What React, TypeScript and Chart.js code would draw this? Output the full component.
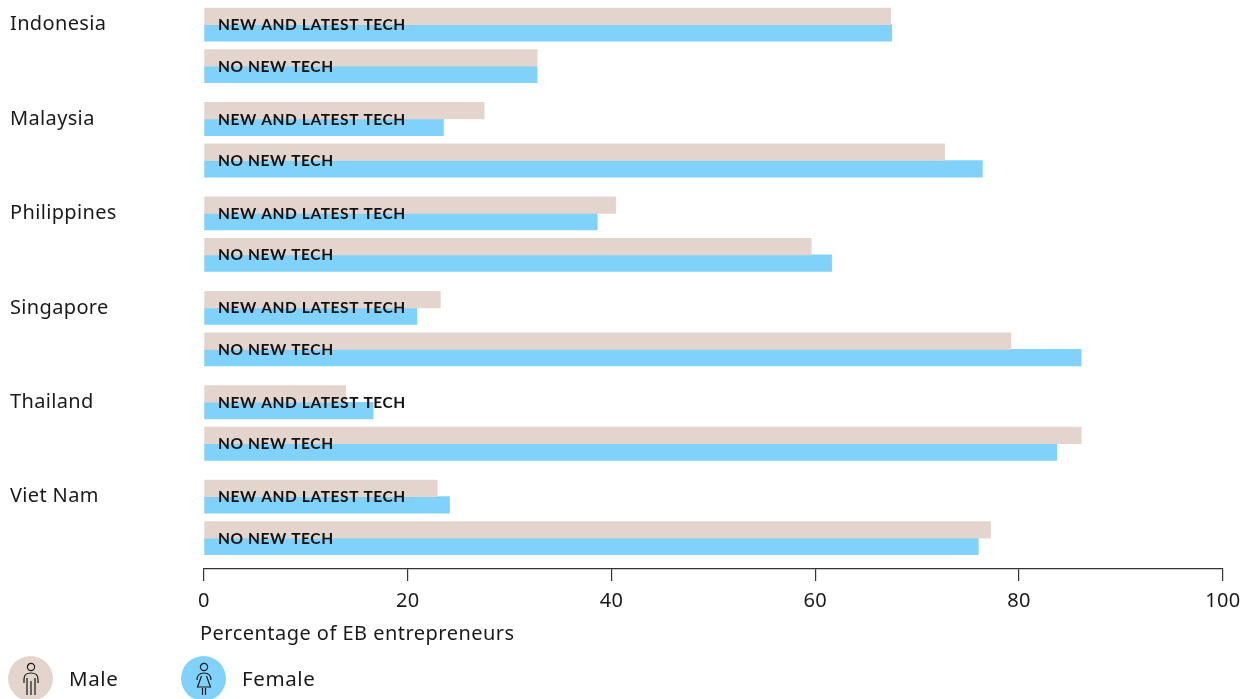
import React, { useEffect, useRef } from "react";
import { Chart, registerables } from "chart.js";

Chart.register(...registerables);

const countries = ["Indonesia", "Malaysia", "Philippines", "Singapore", "Thailand", "Viet Nam"];
const rowNames = ["NEW AND LATEST TECH", "NO NEW TECH"];
const seriesNames = ["Male", "Female"];
const maleNew = [67.4, 27.5, 40.4, 23.2, 13.9, 22.9];
const maleNone = [32.7, 72.7, 59.6, 79.2, 86.1, 77.2];
const femaleNew = [67.5, 23.5, 38.6, 20.9, 16.6, 24.1];
const femaleNone = [32.7, 76.4, 61.6, 86.1, 83.7, 76.0];
const xTicks = [0, 20, 40, 60, 80, 100];
const xTitle = "Percentage of EB entrepreneurs";

const INK = "#1a1a1a";
const MALE = "#e3d5cd";
const FEMALE = "#81d2fa";
const FONT = "'Noto Sans', sans-serif";
const ROW_FONT = "Lato, sans-serif";
const GROUP_STEP = 2.275;

const groupRow = (i: number) => i * GROUP_STEP;
const toPoints = (a: number[], b: number[]) =>
  a.flatMap((v, i) => [
    { x: v, y: groupRow(i) },
    { x: b[i], y: groupRow(i) + 1 },
  ]);

const textPlugin = {
  id: "texts",
  beforeDraw(chart: any) {
    chart.ctx.letterSpacing = "0.35px";
  },
  afterDatasetsDraw(chart: any) {
    const { ctx, scales } = chart;
    ctx.save();
    ctx.letterSpacing = "0.58px";
    ctx.font = `700 15.5px ${ROW_FONT}`;
    ctx.fillStyle = "#111";
    ctx.textAlign = "left";
    ctx.textBaseline = "middle";
    countries.forEach((_, i) => {
      rowNames.forEach((name, r) => {
        ctx.fillText(name, scales.x.getPixelForValue(0) + 14, scales.y.getPixelForValue(groupRow(i) + r) + 0.5);
      });
    });
    ctx.restore();
  },
  afterDraw(chart: any) {
    const { ctx, scales } = chart;
    ctx.save();
    ctx.letterSpacing = "0.47px";
    ctx.font = `400 20px ${FONT}`;
    ctx.fillStyle = INK;
    ctx.textAlign = "left";
    ctx.textBaseline = "middle";
    ctx.fillText(xTitle, scales.x.left - 4, scales.x.top + 65);
    ctx.restore();
  },
};

function PersonIcon({ female }: { female: boolean }) {
  return (
    <svg width="24" height="34" viewBox="0 0 24 34" fill="none" stroke="#1a1a1a" strokeWidth="1.2">
      <circle cx="12" cy="5" r="3.6" />
      {female ? (
        <>
          <path d="M5 18 C5 13 8 11 12 11 C16 11 19 13 19 18" />
          <path d="M9.5 14 L5.5 25 H18.5 L14.5 14" />
          <path d="M10.5 26 V33 M13.5 26 V33" />
        </>
      ) : (
        <>
          <path d="M5 21 V17 C5 13 8 11 12 11 C16 11 19 13 19 17 V21" />
          <path d="M8 16 V33 M12 19 V33 M16 16 V33" />
        </>
      )}
    </svg>
  );
}

function LegendItem({ label, color, left, textLeft, female }: any) {
  return (
    <>
      <div
        style={{
          position: "absolute",
          left,
          top: 656,
          width: 45,
          height: 45,
          borderRadius: "50%",
          background: color,
          display: "flex",
          alignItems: "center",
          justifyContent: "center",
        }}
      >
        <PersonIcon female={female} />
      </div>
      <div
        style={{
          position: "absolute",
          left: textLeft,
          top: 664,
          font: `20.5px ${FONT}`,
          lineHeight: "28px",
          color: INK,
          letterSpacing: "0.6px",
        }}
      >
        {label}
      </div>
    </>
  );
}

export default function App() {
  const ref = useRef<HTMLCanvasElement>(null);
  useEffect(() => {
    const chart = new Chart(ref.current!, {
      type: "bar",
      data: {
        datasets: [
          { label: seriesNames[0], data: toPoints(maleNew, maleNone), backgroundColor: MALE, barThickness: 16.6 },
          { label: seriesNames[1], data: toPoints(femaleNew, femaleNone), backgroundColor: FEMALE, barThickness: 16.6 },
        ],
      },
      options: {
        indexAxis: "y",
        responsive: false,
        animation: false,
        layout: { padding: { left: 10, right: 25, top: 3.85, bottom: 0 } },
        plugins: { legend: { display: false }, tooltip: { enabled: false } },
        scales: {
          x: {
            type: "linear",
            min: 0,
            max: 100,
            afterBuildTicks: (s: any) => {
              s.ticks = xTicks.map((value) => ({ value }));
            },
            afterFit: (s: any) => {
              s.height = 130;
            },
            grid: { drawOnChartArea: false, drawTicks: true, tickLength: 12, color: "#333", lineWidth: 1.2 },
            border: { display: true, color: "#333", width: 1.2 },
            ticks: { color: INK, font: { family: FONT, size: 20 }, padding: 8, maxRotation: 0 },
          },
          y: {
            type: "linear",
            reverse: true,
            offset: false,
            min: -0.5,
            max: GROUP_STEP * 5 + 1.743,
            afterBuildTicks: (s: any) => {
              s.ticks = countries.map((_, i) => ({ value: groupRow(i) }));
            },
            afterFit: (s: any) => {
              s.width = 194;
              s.paddingTop = 0;
              s.paddingBottom = 0;
            },
            grid: { display: false },
            border: { display: false },
            ticks: {
              color: INK,
              font: { family: FONT, size: 20 },
              crossAlign: "far",
              callback: (_v: any, i: number) => countries[i],
            },
          },
        },
      },
      plugins: [textPlugin],
    } as any);
    return () => chart.destroy();
  }, []);
  return (
    <div style={{ position: "absolute", left: 0, top: 0, width: 1248, height: 699, overflow: "hidden", background: "#fff" }}>
      <canvas ref={ref} width={1248} height={699} style={{ display: "block" }} />
      <LegendItem label={seriesNames[0]} color={MALE} left={8} textLeft={69} female={false} />
      <LegendItem label={seriesNames[1]} color={FEMALE} left={181} textLeft={242} female={true} />
    </div>
  );
}
